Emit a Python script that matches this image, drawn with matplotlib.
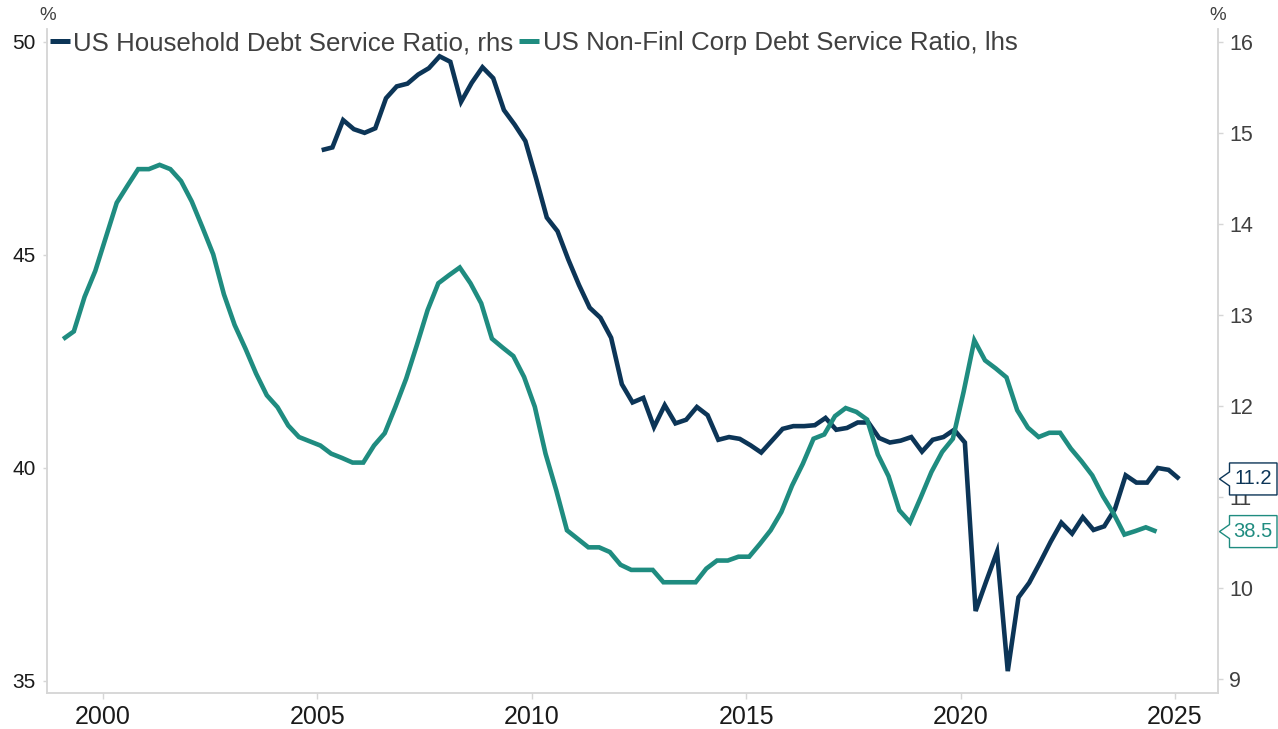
import numpy as np
import matplotlib
matplotlib.use("Agg")
import matplotlib.pyplot as plt
from matplotlib.lines import Line2D
from matplotlib.patches import Polygon

plt.rcParams["font.family"] = ["Liberation Sans", "DejaVu Sans"]

# Quarterly series
corp_start = 1999.07          # first quarter of the non-financial corporate series
corp_dsr = [
    43.02, 43.20, 44.01, 44.62, 45.42, 46.22, 46.62, 47.01, 47.01, 47.11,
    47.01, 46.73, 46.25, 45.64, 45.01, 44.07, 43.35, 42.80, 42.21, 41.70,
    41.42, 40.99, 40.72, 40.62, 40.52, 40.33, 40.23, 40.12, 40.12, 40.52,
    40.81, 41.43, 42.09, 42.88, 43.70, 44.33, 44.52, 44.70, 44.33, 43.86,
    43.03, 42.82, 42.62, 42.13, 41.43, 40.33, 39.47, 38.53, 38.33, 38.13,
    38.13, 38.02, 37.72, 37.60, 37.60, 37.60, 37.31, 37.31, 37.31, 37.31,
    37.63, 37.82, 37.82, 37.91, 37.91, 38.21, 38.53, 38.96, 39.58, 40.09,
    40.68, 40.78, 41.21, 41.40, 41.31, 41.13, 40.31, 39.80, 39.00, 38.72,
    39.30, 39.90, 40.37, 40.68, 41.78, 42.99, 42.52, 42.33, 42.12, 41.35,
    40.94, 40.72, 40.82, 40.82, 40.45, 40.15, 39.82, 39.33, 38.92, 38.43,
    38.51, 38.60, 38.50,
]

hh_start = 2005.10            # first quarter of the household series
hh_dsr = [
    14.81, 14.84, 15.14, 15.04, 15.00, 15.05, 15.38, 15.51, 15.54, 15.64,
    15.71, 15.84, 15.78, 15.34, 15.55, 15.72, 15.60, 15.25, 15.09, 14.91,
    14.50, 14.07, 13.92, 13.61, 13.33, 13.08, 12.97, 12.75, 12.24, 12.04,
    12.09, 11.77, 12.01, 11.81, 11.85, 11.99, 11.90, 11.63, 11.66, 11.64,
    11.57, 11.49, 11.62, 11.75, 11.78, 11.78, 11.79, 11.87, 11.74, 11.76,
    11.82, 11.82, 11.65, 11.60, 11.62, 11.66, 11.50, 11.63, 11.66, 11.74,
    11.60, 9.75, 10.08, 10.40, 9.09, 9.90, 10.06, 10.28, 10.51, 10.72,
    10.60, 10.78, 10.64, 10.68, 10.87, 11.24, 11.16, 11.16, 11.32, 11.30,
    11.20,
]

corp_x = corp_start + 0.25 * np.arange(len(corp_dsr))
hh_x = hh_start + 0.25 * np.arange(len(hh_dsr))

hh_label = "US Household Debt Service Ratio, rhs"
corp_label = "US Non-Finl Corp Debt Service Ratio, lhs"

x_ticks = [2000, 2005, 2010, 2015, 2020, 2025]
left_ticks = [35, 40, 45, 50]
right_ticks = [9, 10, 11, 12, 13, 14, 15, 16]

NAVY = "#0C3557"
TEAL = "#1F8C80"
GRID = "#d6d6d6"
TXT = "#404040"

W, H = 1278, 729
fig = plt.figure(figsize=(W / 100, H / 100), dpi=100)
left_px, right_px, top_px, bottom_px = 47, 1218, 29, 693
ax1 = fig.add_axes([left_px / W, (H - bottom_px) / H,
                    (right_px - left_px) / W, (bottom_px - top_px) / H])
ax2 = ax1.twinx()
ax1.set_zorder(ax2.get_zorder() + 1)
ax1.patch.set_visible(False)

ax2.plot(hh_x, hh_dsr, color=NAVY, lw=3.3, solid_joinstyle="miter",
         solid_capstyle="butt")
ax1.plot(corp_x, corp_dsr, color=TEAL, lw=3.3, solid_joinstyle="miter",
         solid_capstyle="butt")

ax1.set_xlim(1998.694, 2026.003)
ax1.set_ylim(34.71, 50.30)
ax2.set_ylim(8.85, 16.14)

ax1.set_xticks(x_ticks)
ax1.set_yticks(left_ticks)
ax2.set_yticks(right_ticks)

for ax in (ax1, ax2):
    ax.spines["top"].set_visible(False)
    for side in ("left", "right", "bottom"):
        ax.spines[side].set_color(GRID)
        ax.spines[side].set_linewidth(1.1)

ax1.tick_params(axis="x", direction="out", length=4, width=1, color=GRID,
                labelsize=18, labelcolor="#1a1a1a", pad=5)
ax1.tick_params(axis="y", direction="out", length=3.2, width=1, color=GRID,
                labelsize=15, labelcolor="#1a1a1a", pad=5)
ax2.tick_params(axis="y", direction="out", length=3.4, width=1, color=GRID,
                labelsize=15.5, labelcolor=TXT, pad=4.5)

# unit markers above each axis
fig.text(47.5 / W, 1 - 15 / H, "%", ha="center", va="center",
         fontsize=13.5, color=TXT)
fig.text(1217.5 / W, 1 - 15 / H, "%", ha="center", va="center",
         fontsize=13.5, color=TXT)

handles = [Line2D([], [], color=NAVY, lw=3.6, solid_capstyle="butt"),
           Line2D([], [], color=TEAL, lw=3.6, solid_capstyle="butt")]
fig.legend(handles, [hh_label, corp_label], loc="center left",
           bbox_to_anchor=(50 / W, 1 - 43 / H), ncol=2, frameon=False,
           fontsize=18.6, labelcolor=TXT, handlelength=0.78,
           handletextpad=0.12, columnspacing=0.23, borderpad=0,
           borderaxespad=0)


def value_tag(ax, value, text, color):
    """Flag-shaped tag on the right of the plot pointing at the value."""
    y = ax.transData.transform((0, value))[1]
    tip = 1219.5
    notch = 1229.5
    right = 1277.0
    half_h = 16.0
    half_n = 7.0
    pts = [(tip, y), (notch, y + half_n), (notch, y + half_h),
           (right, y + half_h), (right, y - half_h), (notch, y - half_h),
           (notch, y - half_n)]
    pts = [(px / W, py / H) for px, py in pts]
    fig.patches.append(Polygon(pts, closed=True, transform=fig.transFigure,
                               facecolor="white", edgecolor=color, lw=1.0,
                               zorder=5, figure=fig))
    fig.text(1253 / W, y / H, text, ha="center", va="center",
             fontsize=14.5, color=color, zorder=6)


value_tag(ax2, hh_dsr[-1], f"{hh_dsr[-1]:.1f}", NAVY)
value_tag(ax1, corp_dsr[-1], f"{corp_dsr[-1]:.1f}", TEAL)

fig.savefig("out.png", dpi=100)
